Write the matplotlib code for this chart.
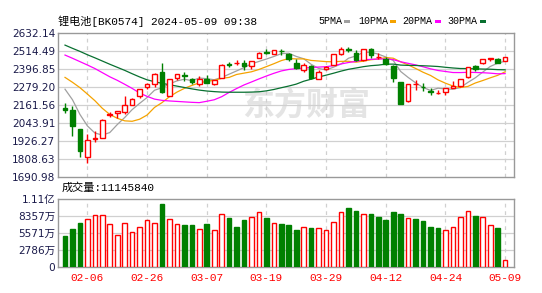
import numpy as np
import pandas as pd
import matplotlib
matplotlib.use("Agg")
import matplotlib.pyplot as plt
from matplotlib.patches import Rectangle

plt.rcParams['font.family'] = ['DejaVu Sans', 'Noto Sans CJK SC']

dates = ['02-01', '02-02', '02-05', '02-06', '02-07', '02-08', '02-19', '02-20', '02-21', '02-22',
         '02-23', '02-26', '02-27', '02-28', '02-29', '03-01', '03-04', '03-05', '03-06', '03-07',
         '03-08', '03-11', '03-12', '03-13', '03-14', '03-15', '03-18', '03-19', '03-20', '03-21',
         '03-22', '03-25', '03-26', '03-27', '03-28', '03-29', '04-01', '04-02', '04-03', '04-08',
         '04-09', '04-10', '04-11', '04-12', '04-15', '04-16', '04-17', '04-18', '04-19', '04-22',
         '04-23', '04-24', '04-25', '04-26', '04-29', '04-30', '05-06', '05-07', '05-08', '05-09']

opens = [2140, 2132, 2003, 1820, 1940, 1949, 2093, 2110, 2117, 2162,
         2218, 2280, 2297, 2377, 2222, 2340, 2360, 2330, 2299, 2334,
         2299, 2340, 2429, 2436, 2437, 2416, 2469, 2506, 2497, 2517,
         2493, 2439, 2390, 2418, 2330, 2394, 2426, 2497, 2527, 2504,
         2454, 2530, 2473, 2465, 2418, 2310, 2186, 2297, 2280, 2256,
         2243, 2246, 2272, 2289, 2342, 2416, 2433, 2461, 2465, 2450]
highs = [2175, 2153, 2003, 1970, 1992, 2067, 2117, 2125, 2222, 2205,
         2266, 2304, 2368, 2435, 2331, 2364, 2375, 2340, 2353, 2358,
         2328, 2427, 2444, 2454, 2454, 2451, 2505, 2525, 2519, 2525,
         2504, 2461, 2433, 2426, 2390, 2418, 2494, 2540, 2540, 2519,
         2530, 2531, 2504, 2476, 2426, 2311, 2298, 2325, 2304, 2272,
         2261, 2272, 2319, 2331, 2413, 2426, 2459, 2472, 2466, 2476]
lows = [2108, 1960, 1820, 1781, 1917, 1945, 2082, 2078, 2104, 2160,
        2207, 2267, 2276, 2239, 2218, 2325, 2319, 2297, 2289, 2304,
        2293, 2336, 2409, 2422, 2390, 2396, 2467, 2495, 2496, 2491,
        2448, 2396, 2375, 2332, 2329, 2393, 2425, 2491, 2508, 2448,
        2448, 2469, 2461, 2426, 2310, 2169, 2184, 2261, 2254, 2224,
        2231, 2224, 2270, 2278, 2340, 2383, 2431, 2448, 2438, 2449]
closes = [2130, 2024, 1863, 1932, 1945, 2061, 2106, 2123, 2164, 2203,
          2265, 2297, 2362, 2244, 2330, 2362, 2353, 2315, 2330, 2308,
          2327, 2426, 2424, 2436, 2418, 2450, 2504, 2502, 2519, 2512,
          2461, 2401, 2426, 2336, 2379, 2411, 2493, 2530, 2523, 2454,
          2530, 2491, 2473, 2429, 2340, 2170, 2297, 2297, 2276, 2244,
          2243, 2272, 2289, 2330, 2411, 2394, 2459, 2472, 2439, 2476]
# volume in 万
volumes = [5001, 6306, 7284, 7882, 8535, 8535, 7067, 5273, 7230, 5762,
           6578, 7719, 7230, 10383, 7882, 7067, 6958, 6958, 6251, 7121,
           6143, 8698, 8045, 6632, 7773, 8208, 9078, 8100, 7230, 7121,
           6958, 6143, 6578, 6469, 6414, 6088, 7393, 9024, 9730, 9241,
           8698, 8752, 8263, 7773, 9078, 8752, 8045, 7937, 7610, 6632,
           6469, 6088, 6578, 8208, 9187, 8426, 8208, 6904, 6469, 1114.584]

# moving average values before the window is full
ma5_head = [2265, 2196, 2100, 2025]
ma10_head = [2342, 2310, 2275, 2233, 2190, 2140, 2100, 2075, 2058]
ma20_head = [2488, 2467, 2445, 2423, 2400, 2373, 2346, 2323, 2297, 2270,
             2240, 2218, 2200, 2192, 2188, 2185, 2182, 2179, 2177]
ma30_head = [2553, 2532, 2512, 2490, 2470, 2449, 2428, 2408, 2388, 2366,
             2345, 2326, 2314, 2303, 2294, 2285, 2276, 2267, 2259, 2253,
             2249, 2246, 2245, 2245, 2245, 2246, 2248, 2254, 2263]

price_ticks = ['1690.98', '1808.63', '1926.27', '2043.91', '2161.56',
               '2279.20', '2396.85', '2514.49', '2632.14']
vol_ticks = ['0', '2786万', '5571万', '8357万', '1.11亿']
vol_max = 11143

RED = '#ff0000'
GREEN = '#008000'
FRAME = '#999999'
GRID = '#d0d0d0'
LABEL = '#1a1a4a'

o = np.array(opens, float)
h = np.array(highs, float)
l = np.array(lows, float)
c = np.array(closes, float)
v = np.array(volumes, float)
x = np.arange(len(c))

cs = pd.Series(c)
mas = {}
for n, head in [(5, ma5_head), (10, ma10_head), (20, ma20_head), (30, ma30_head)]:
    m = cs.rolling(n).mean().to_numpy()
    m[:n - 1] = head
    mas[n] = m

up = c > o
doji = c == o
body_col = np.where(up | doji, RED, GREEN)
body_face = np.where(up | doji, 'white', GREEN)
vol_col = np.where(up, RED, GREEN)
vol_face = np.where(up, 'white', GREEN)

W, H = 542, 293
fig = plt.figure(figsize=(W / 100, H / 100), dpi=100)
ax = fig.add_axes([58 / W, 1 - 177 / H, 456 / W, 144 / H])
axv = fig.add_axes([58 / W, 1 - 267 / H, 456 / W, 68 / H])

xmin, xmax = -0.94, 60.19
label_idx = [i for i in range(3, len(dates), 8)]

# watermark
ax.text(0.545, 0.49, '东方财富', transform=ax.transAxes, ha='center', va='center',
        fontsize=23, fontweight='bold', color='#e4e4e4', family=['Noto Sans CJK SC'],
        zorder=0)

ylo, yhi = 1690.98, 2632.14
yt = np.linspace(ylo, yhi, 9)
for a in (ax, axv):
    a.set_xlim(xmin, xmax)
    for s in a.spines.values():
        s.set_color(FRAME)
        s.set_linewidth(1)
    for i in label_idx:
        a.axvline(i, color=GRID, lw=0.9, ls=(0, (3, 3)), zorder=0.5)
    a.tick_params(length=0, pad=2, labelsize=7.6, labelcolor=LABEL)

ax.set_ylim(ylo, yhi)
ax.set_yticks(yt)
ax.set_yticklabels(price_ticks)
for yv in yt[1:-1]:
    ax.axhline(yv, color=GRID, lw=0.9, zorder=0.5)
ax.set_xticks([])

# moving averages
ma_colors = {5: '#a0a0a0', 10: '#f5a300', 20: '#ff00ff', 30: '#087030'}
for n in (5, 10, 20, 30):
    ax.plot(x, mas[n], color=ma_colors[n], lw=0.9, zorder=2)

# candles
bw = 0.62
ax.vlines(x, l, np.minimum(o, c), colors=body_col, lw=1, zorder=3)
ax.vlines(x, np.maximum(o, c), h, colors=body_col, lw=1, zorder=3)
ax.bar(x, np.abs(c - o), bottom=np.minimum(o, c), width=bw, color=body_face,
       edgecolor=body_col, linewidth=1, zorder=4)

# volume
axv.set_ylim(0, vol_max)
vt = np.linspace(0, vol_max, 5)
axv.set_yticks(vt)
axv.set_yticklabels(vol_ticks)
for yv in vt[1:-1]:
    axv.axhline(yv, color=GRID, lw=0.9, zorder=0.5)
axv.bar(x, v, width=bw, color=vol_face, edgecolor=vol_col, linewidth=1, zorder=3)
axv.set_xticks(label_idx)
axv.set_xticklabels([dates[i] for i in label_idx], color=RED, fontsize=8,
                    family=['Liberation Mono'])
axv.tick_params(axis='x', pad=4)

# header texts
mono = ['Liberation Mono', 'Noto Sans CJK SC']
fig.text(58 / W, 1 - 21 / H, '锂电池[BK0574] 2024-05-09 09:38', ha='left', va='center',
         fontsize=8, family=mono, color='black')
fig.text(62 / W, 1 - 188 / H, '成交量:11145840', ha='left', va='center',
         fontsize=8, family=mono, color='black')

legend = [('5PMA', 318, 344, ma_colors[5]), ('10PMA', 358, 390, ma_colors[10]),
          ('20PMA', 402, 435, ma_colors[20]), ('30PMA', 447, 480, ma_colors[30])]
for name, tx, bx, col in legend:
    fig.text(tx / W, 1 - 21 / H, name, ha='left', va='center', fontsize=7.2,
             family=['Liberation Mono'], color='black')
    fig.patches.append(Rectangle((bx / W, 1 - 23 / H), 6 / W, 3 / H, transform=fig.transFigure,
                                 facecolor=col, edgecolor='none'))

fig.savefig('out.png', dpi=100)
